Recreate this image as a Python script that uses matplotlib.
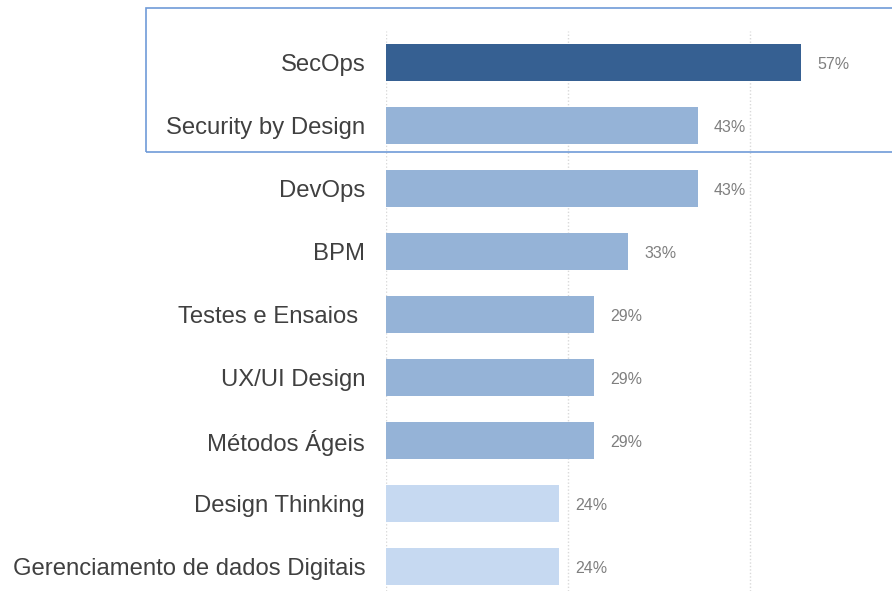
import matplotlib.pyplot as plt
from matplotlib.patches import Rectangle

plt.rcParams['font.family'] = ['Liberation Sans', 'DejaVu Sans']

categories = ["SecOps", "Security by Design", "DevOps", "BPM", "Testes e Ensaios ",
              "UX/UI Design", "Métodos Ágeis", "Design Thinking",
              "Gerenciamento de dados Digitais"]
values = [57.1, 42.9, 42.9, 33.3, 28.6, 28.6, 28.6, 23.8, 23.8]
colors = ["#366092", "#95b3d7", "#95b3d7", "#95b3d7", "#95b3d7",
          "#95b3d7", "#95b3d7", "#c6d9f1", "#c6d9f1"]

W, H = 892, 591
fig = plt.figure(figsize=(W / 100, H / 100), dpi=100)
ax = fig.add_axes([386 / W, 0, 1 - 386 / W, 1 - 31 / H])

ypos = list(range(len(categories)))
ax.barh(ypos, values, height=0.59, color=colors)
for y, v in zip(ypos, values):
    ax.annotate(f"{v:.0f}%", (v, y), xytext=(11.5, -1.5), textcoords="offset points",
                va="center", ha="left", fontsize=11.5, color="#7f7f7f")

ax.set_xlim(0, 69.6)
ax.set_ylim(8.39, -0.5)
ax.set_yticks(ypos)
ax.set_yticklabels(categories, fontsize=17.2, color="#404040")
ax.tick_params(axis="y", length=0, pad=15)
ax.set_xticks([0, 25, 50])
ax.tick_params(axis="x", length=0, labelbottom=False)
ax.grid(axis="x", linestyle=(0, (1, 1.5)), color="#d9d9d9", linewidth=1)
ax.set_axisbelow(True)
for s in ax.spines.values():
    s.set_visible(False)

# highlight box around the top two items
fig.patches.append(Rectangle((146 / W, 1 - 152 / H), 1, (152 - 8) / H,
                             transform=fig.transFigure, fill=False,
                             edgecolor="#6f9bd8", linewidth=1.2))

fig.savefig("out.png", dpi=100)
